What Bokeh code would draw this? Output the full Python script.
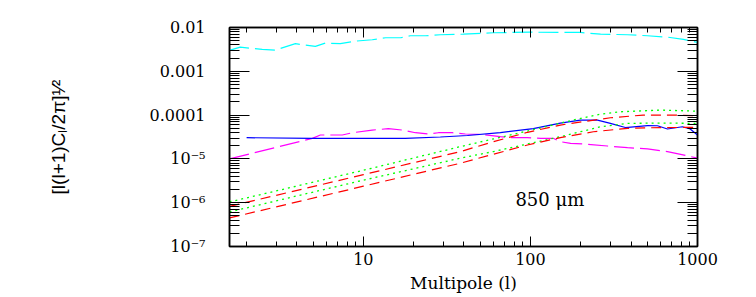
from bokeh.plotting import figure
from bokeh.models import LogAxis, FixedTicker, CustomJSTickFormatter, Label, Range1d
from bokeh.embed import file_html
from bokeh.resources import INLINE

# ---------------- data ----------------
x_range_lim = [1.58, 1000]
y_range_lim = [1e-7, 1e-2]

x_tick_values = [10, 100, 1000]
x_tick_labels = ["10", "100", "1000"]
y_tick_values = [1e-7, 1e-6, 1e-5, 1e-4, 1e-3, 1e-2]
y_tick_labels = ["10\u207b\u2077", "10\u207b\u2076", "10\u207b\u2075", "0.0001", "0.001", "0.01"]

l_cyan = [1.58, 1.83, 2.48, 2.97, 3.92, 5.16, 5.92, 7.28, 8.96, 11.3, 13.6, 16.7, 19.1,
          23.5, 28.9, 39.7, 60, 100, 151, 199, 263, 381, 502, 661, 824, 1000]
v_cyan = [3.0e-3, 3.56e-3, 3.16e-3, 3.05e-3, 4.27e-3, 3.70e-3, 4.40e-3, 4.27e-3, 4.89e-3,
          5.25e-3, 5.83e-3, 5.83e-3, 6.48e-3, 6.48e-3, 6.83e-3, 7.04e-3, 7.58e-3, 7.82e-3,
          7.7e-3, 7.7e-3, 7.05e-3, 6.83e-3, 6.48e-3, 6.02e-3, 5.34e-3, 4.56e-3]

l_blue = [2, 4.95, 10, 17.8, 28.9, 42, 66, 104, 151, 199, 252, 301, 370, 502, 576, 661,
          812, 904, 1000]
v_blue = [3.05e-5, 2.95e-5, 2.93e-5, 2.95e-5, 3.16e-5, 3.42e-5, 4.0e-5, 4.93e-5, 6.58e-5,
          7.7e-5, 7.7e-5, 6.47e-5, 5.2e-5, 5.77e-5, 5.71e-5, 4.81e-5, 5.42e-5, 4.81e-5, 3.51e-5]

l_magenta = [1.58, 4.95, 5.53, 7.48, 8.59, 11.3, 14.1, 17.1, 20.5, 24.5, 28.1, 34.1, 40.8,
             50.2, 66.1, 75.9, 96, 115, 137, 151, 174, 219, 289, 381, 502, 661, 871, 1000]
v_magenta = [1.0e-5, 2.95e-5, 3.51e-5, 3.51e-5, 3.96e-5, 4.56e-5, 4.89e-5, 4.56e-5, 3.96e-5,
             3.70e-5, 3.96e-5, 3.96e-5, 3.70e-5, 3.64e-5, 3.21e-5, 3.05e-5, 3.05e-5, 2.95e-5,
             2.95e-5, 2.47e-5, 2.27e-5, 2.16e-5, 1.97e-5, 1.81e-5, 1.69e-5, 1.47e-5, 1.17e-5,
             1.04e-5]

l_green_hi = [1.58, 10, 38.1, 96, 180, 263, 345, 603, 1000]
v_green_hi = [1.04e-6, 5.5e-6, 1.91e-5, 4.33e-5, 7.69e-5, 1.05e-4, 1.19e-4, 1.30e-4, 1.23e-4]

l_red_hi = [1.58, 10, 38.1, 60, 96, 151, 219, 301, 473, 716, 1000]
v_red_hi = [8.24e-7, 4.37e-6, 1.47e-5, 2.47e-5, 4.05e-5, 5.93e-5, 7.31e-5, 8.69e-5, 1.0e-4,
            1.0e-4, 9.64e-5]

l_green_lo = [1.58, 10, 38.1, 60, 151, 263, 381, 603, 1000]
v_green_lo = [6.15e-7, 3.27e-6, 1.04e-5, 1.47e-5, 3.21e-5, 5.42e-5, 6.47e-5, 6.58e-5, 6.47e-5]

l_red_lo = [1.58, 10, 38.1, 96, 151, 238, 381, 502, 1000]
v_red_lo = [4.49e-7, 2.38e-6, 7.98e-6, 2.08e-5, 3.05e-5, 4.17e-5, 4.99e-5, 5.14e-5, 5.25e-5]

band_label = "850 \u03bcm"
x_title = "Multipole (l)"
y_title = "[l(l+1)C\u2097/2\u03c0]\u00b9\u2044\u00b2"

# ---------------- figure ----------------
TICK_FONT = "DejaVu Serif"

p = figure(width=748, height=295, x_axis_type="log", y_axis_type="log",
           x_range=Range1d(*x_range_lim), y_range=Range1d(*y_range_lim),
           output_backend="svg", toolbar_location=None,
           min_border_left=229, min_border_right=51, min_border_top=27, min_border_bottom=48)
p.grid.visible = False
p.outline_line_color = "black"
p.outline_line_width = 1.5
p.background_fill_color = "white"
p.border_fill_color = "white"

x_minor = [m * 10 ** k for k in range(0, 3) for m in range(2, 10)]
y_minor = [m * 10.0 ** k for k in range(-7, -2) for m in range(2, 10)]

def x_ticker():
    return FixedTicker(ticks=x_tick_values, minor_ticks=x_minor)

def y_ticker():
    return FixedTicker(ticks=y_tick_values, minor_ticks=y_minor)

fmt_code = """
for (let i = 0; i < vals.length; i++) {
  if (Math.abs(Math.log10(tick) - Math.log10(vals[i])) < 1e-6) return labels[i];
}
return '';
"""
x_fmt = CustomJSTickFormatter(args=dict(vals=x_tick_values, labels=x_tick_labels), code=fmt_code)
y_fmt = CustomJSTickFormatter(args=dict(vals=y_tick_values, labels=y_tick_labels), code=fmt_code)
empty_fmt = CustomJSTickFormatter(code="return '';")

def style_common(ax):
    ax.axis_line_color = "black"
    ax.axis_line_width = 1.5
    ax.major_tick_line_color = "black"
    ax.minor_tick_line_color = "black"
    ax.major_tick_out = 0
    ax.minor_tick_out = 0
    ax.major_label_text_color = "black"
    ax.axis_label_text_color = "black"

def style_x(ax):
    ax.ticker = x_ticker()
    ax.major_tick_in = 10
    ax.minor_tick_in = 5
    style_common(ax)

def style_y(ax):
    ax.ticker = y_ticker()
    ax.major_tick_in = 20
    ax.minor_tick_in = 10
    style_common(ax)

xb = p.xaxis[0]
style_x(xb)
xb.formatter = x_fmt
xb.major_label_text_font = TICK_FONT
xb.major_label_text_font_size = "16px"
xb.major_label_standoff = 6
xb.axis_label = x_title
xb.axis_label_text_font = TICK_FONT
xb.axis_label_text_font_size = "17px"
xb.axis_label_text_font_style = "normal"
xb.axis_label_standoff = 5

yl = p.yaxis[0]
style_y(yl)
yl.formatter = y_fmt
yl.major_label_text_font = TICK_FONT
yl.major_label_text_font_size = "16px"
yl.major_label_standoff = 24
yl.axis_label = y_title
yl.axis_label_text_font = "'Liberation Sans Narrow', 'Liberation Sans', sans-serif"
yl.axis_label_text_font_size = "19px"
yl.axis_label_text_font_style = "normal"
yl.axis_label_standoff = 78

xt = LogAxis(formatter=empty_fmt)
style_x(xt)
p.add_layout(xt, "above")

yr = LogAxis(formatter=empty_fmt)
style_y(yr)
p.add_layout(yr, "right")

# ---------------- curves ----------------
p.line(l_cyan, v_cyan, line_color="#00ffff", line_width=1.2, line_dash="20 6")
p.line(l_magenta, v_magenta, line_color="#ff00ff", line_width=1.2, line_dash="20 6")
p.line(l_blue, v_blue, line_color="#0000ff", line_width=1.2)
p.line(l_green_hi, v_green_hi, line_color="#00ff00", line_width=1.3, line_dash="2 4")
p.line(l_green_lo, v_green_lo, line_color="#00ff00", line_width=1.3, line_dash="2 4")
p.line(l_red_hi, v_red_hi, line_color="#ff0000", line_width=1.2, line_dash="10 6")
p.line(l_red_lo, v_red_lo, line_color="#ff0000", line_width=1.2, line_dash="10 6")

p.add_layout(Label(x=81.3, y=1.17e-6, text=band_label, text_font=TICK_FONT,
                   text_font_size="18px", text_baseline="middle", text_align="left",
                   text_color="black"))

open("out.html", "w").write(file_html(p, INLINE))
